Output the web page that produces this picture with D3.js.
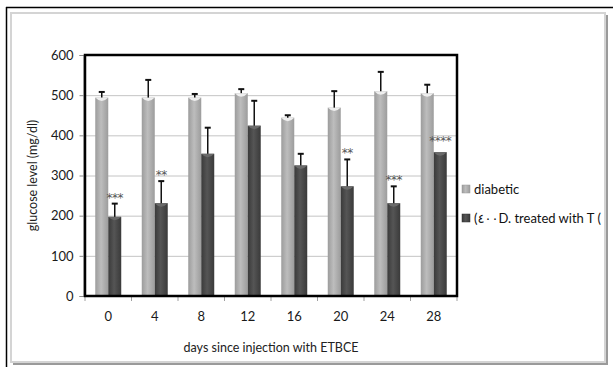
<!DOCTYPE html>
<html>
<head>
<meta charset="utf-8">
<script src="https://cdn.jsdelivr.net/npm/d3@7"></script>
<style>
  body { margin: 0; background: #fff; }
  text { font-family: Lato, "Liberation Sans", "DejaVu Sans", sans-serif; }
</style>
</head>
<body>
<script>
// data
const days = ["0", "4", "8", "12", "16", "20", "24", "28"]
const diabetic = [494, 494, 494, 505, 444, 469, 510, 505]
const diabeticErr = [14, 44, 9, 10, 6, 41, 48, 21]
const treated = [197, 231, 354, 424, 325, 273, 231, 358]
const treatedErr = [33, 55, 65, 62, 29, 67, 42, 0]
const stars = ["***", "**", "", "", "", "**", "***", "****"]
const yTicks = [0, 100, 200, 300, 400, 500, 600]
const seriesNames = ["diabetic", "(٤٠٠D. treated with T ("]

const W = 613, H = 367

const svg = d3.select("body").append("svg")
    .attr("width", W)
    .attr("height", H)

const defs = svg.append("defs")

// cylinder-like gradients for the bars
function grad(id, edge, mid) {
    const g = defs.append("linearGradient").attr("id", id)
        .attr("x1", "0%").attr("x2", "100%").attr("y1", "0%").attr("y2", "0%")
    g.append("stop").attr("offset", "0%").attr("stop-color", edge)
    g.append("stop").attr("offset", "45%").attr("stop-color", mid)
    g.append("stop").attr("offset", "100%").attr("stop-color", edge)
}
grad("gLight", "#9c9c9c", "#bdbdbd")
grad("gDark", "#3a3a3a", "#555555")

defs.append("clipPath").attr("id", "frameClip")
    .append("rect").attr("x", 14).attr("y", 14).attr("width", 591).attr("height", 348)

// outer frame: black line left/top, then grey panel with shadow
svg.append("line").attr("x1", 6.5).attr("x2", 6.5).attr("y1", 7).attr("y2", H)
    .attr("stroke", "#000").attr("stroke-width", 1.5)
svg.append("line").attr("x1", 6).attr("x2", W).attr("y1", 7.5).attr("y2", 7.5)
    .attr("stroke", "#000").attr("stroke-width", 1.5)
svg.append("rect").attr("x", 13).attr("y", 15).attr("width", 595).attr("height", 350)
    .attr("fill", "#9a9a9a")
svg.append("rect").attr("x", 11).attr("y", 13).attr("width", 594).attr("height", 349)
    .attr("fill", "#fff").attr("stroke", "#d4d4d4").attr("stroke-width", 2)
svg.append("rect").attr("x", 15).attr("y", 16).attr("width", 589).attr("height", 345)
    .attr("fill", "#fff")

const pLeft = 85, pRight = 457, pTop = 55, pBottom = 296

const y = d3.scaleLinear().domain([0, 600]).range([pBottom, pTop])
const x0 = d3.scaleBand().domain(days).range([pLeft, pRight]).padding(0)
const x1 = d3.scaleBand().domain([0, 1]).range([0, x0.bandwidth()])
    .paddingInner(0).paddingOuter(0.79)

// gridlines
svg.append("g").selectAll("line")
    .data(yTicks.filter(d => d > 0 && d < 600))
    .enter().append("line")
    .attr("x1", pLeft).attr("x2", pRight)
    .attr("y1", d => y(d) + 0.5).attr("y2", d => y(d) + 0.5)
    .attr("stroke", "#c4c4c4")

// y axis
const yAxis = svg.append("g")
    .attr("transform", `translate(${pLeft - 1.5},0)`)
    .call(d3.axisLeft(y).tickValues(yTicks).tickSize(4).tickPadding(6))
yAxis.select(".domain").attr("stroke", "#8c8c8c")
yAxis.selectAll(".tick line").attr("stroke", "#8c8c8c")
yAxis.selectAll("text").attr("font-size", 13).attr("fill", "#1a1a1a")
    .style("font-family", "Lato, sans-serif")

// x axis (ticks on category boundaries)
const xAxis = svg.append("g")
    .attr("transform", `translate(0,${pBottom + 1})`)
    .call(d3.axisBottom(x0).tickSize(0).tickPadding(15))
xAxis.select(".domain").remove()
xAxis.selectAll("text").attr("font-size", 13).attr("fill", "#1a1a1a")
    .style("font-family", "Lato, sans-serif")
svg.append("g").selectAll("line")
    .data(days.concat(["end"]))
    .enter().append("line")
    .attr("x1", (d, i) => pLeft + i * x0.step())
    .attr("x2", (d, i) => pLeft + i * x0.step())
    .attr("y1", pBottom).attr("y2", pBottom + 5)
    .attr("stroke", "#a0a0a0")

// bars
const groups = svg.append("g").selectAll("g")
    .data(days)
    .enter().append("g")
    .attr("transform", d => `translate(${x0(d)},0)`)

const vals = [diabetic, treated]
const errs = [diabeticErr, treatedErr]
const fills = ["url(#gLight)", "url(#gDark)"]
const caps = ["#eeeeee", "#6a6a6a"]

;[0, 1].forEach(s => {
    groups.append("rect")
        .attr("x", x1(s))
        .attr("width", x1.bandwidth())
        .attr("y", (d, i) => y(vals[s][i]))
        .attr("height", (d, i) => pBottom - y(vals[s][i]))
        .attr("fill", fills[s])
    // little top highlight
    groups.append("path")
        .attr("d", (d, i) => {
            const xa = x1(s), w = x1.bandwidth(), yt = y(vals[s][i])
            return `M${xa},${yt} L${xa + w},${yt} Q${xa + w / 2},${yt + 7} ${xa},${yt} Z`
        })
        .attr("fill", caps[s])
    // error bars
    groups.append("line")
        .attr("x1", x1(s) + x1.bandwidth() / 2).attr("x2", x1(s) + x1.bandwidth() / 2)
        .attr("y1", (d, i) => y(vals[s][i]))
        .attr("y2", (d, i) => y(vals[s][i] + errs[s][i]))
        .attr("stroke", "#111").attr("stroke-width", 1.5)
        .style("display", (d, i) => errs[s][i] > 0 ? null : "none")
    groups.append("line")
        .attr("x1", x1(s) + x1.bandwidth() / 2 - 3).attr("x2", x1(s) + x1.bandwidth() / 2 + 3)
        .attr("y1", (d, i) => y(vals[s][i] + errs[s][i]))
        .attr("y2", (d, i) => y(vals[s][i] + errs[s][i]))
        .attr("stroke", "#111").attr("stroke-width", 2)
        .style("display", (d, i) => errs[s][i] > 0 ? null : "none")
})

// significance stars above the treated bars
groups.append("text")
    .attr("x", x1(1) + x1.bandwidth() / 2)
    .attr("y", (d, i) => y(treated[i] + treatedErr[i]) - (treatedErr[i] > 0 ? 2 : 7))
    .attr("text-anchor", "middle")
    .attr("font-size", 12)
    .attr("fill", "#555")
    .style("font-family", "'DejaVu Sans', sans-serif")
    .attr("letter-spacing", -0.5)
    .text((d, i) => stars[i])

// plot frame
svg.append("rect")
    .attr("x", pLeft).attr("y", pTop)
    .attr("width", pRight - pLeft).attr("height", pBottom - pTop)
    .attr("fill", "none").attr("stroke", "#000").attr("stroke-width", 2.5)

// axis titles
svg.append("text")
    .attr("transform", `translate(37,${(pTop + pBottom) / 2}) rotate(-90)`)
    .attr("text-anchor", "middle")
    .attr("font-size", 12.5).attr("fill", "#222")
    .text("glucose level (mg/dl)")
svg.append("text")
    .attr("x", (pLeft + pRight) / 2).attr("y", 352)
    .attr("text-anchor", "middle")
    .attr("font-size", 12.5).attr("fill", "#222")
    .text("days since injection with ETBCE")

// legend
const legend = svg.append("g").attr("clip-path", "url(#frameClip)")
const legFills = ["url(#gLight)", "url(#gDark)"]
seriesNames.forEach((name, i) => {
    const ly = 189 + i * 29
    legend.append("rect")
        .attr("x", 462).attr("y", ly - 4).attr("width", 8).attr("height", 8)
        .attr("fill", legFills[i]).attr("stroke", i ? "#333" : "#999").attr("stroke-width", 0.5)
    legend.append("text")
        .attr("x", 474).attr("y", ly + 4.5)
        .attr("font-size", 13).attr("fill", "#111")
        .style("direction", "ltr").style("unicode-bidi", "bidi-override")
        .text(name)
})
</script>
</body>
</html>
